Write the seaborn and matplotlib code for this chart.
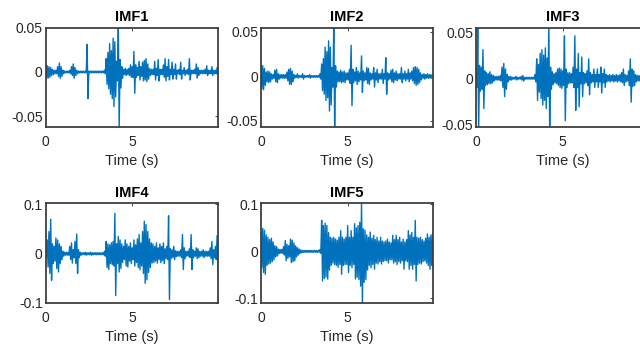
import numpy as np
import pandas as pd
import seaborn as sns
import matplotlib
matplotlib.use("Agg")
import matplotlib.pyplot as plt

# Envelope of each IMF, one pair per 0.1 s,
# in thousandths (upper peak, then lower peak)
imf1_hi = [8, 7, 6, 5, 3, 2, 2, 6, 10, 6,
           2, 1, 1, 1, 2, 6, 9, 5, 2, 1,
           1, 1, 1, 1, 31, 1, 1, 1, 1, 1,
           1, 1, 1, 1, 2, 15, 22, 32, 24, 38,
           34, 12, 55, 14, 6, 3, 4, 3, 4, 8,
           6, 23, 8, 5, 12, 6, 11, 13, 15, 9,
           4, 3, 3, 12, 4, 14, 3, 3, 8, 15,
           6, 14, 3, 11, 3, 9, 2, 3, 11, 2,
           5, 2, 3, 15, 2, 2, 3, 9, 5, 2,
           2, 2, 3, 7, 2, 2, 6, 2, 2, 5]
imf1_lo = [-8, -7, -6, -4, -3, -2, -2, -5, -7, -5,
           -2, -1, -1, -1, -2, -4, -7, -4, -2, -1,
           -1, -1, -1, -1, -30, -1, -1, -1, -1, -1,
           -1, -1, -1, -1, -2, -14, -19, -25, -30, -39,
           -28, -10, -65, -18, -7, -3, -4, -3, -4, -6,
           -6, -24, -6, -4, -9, -5, -10, -9, -11, -8,
           -4, -3, -3, -9, -4, -10, -3, -3, -6, -10,
           -5, -9, -3, -8, -3, -8, -2, -3, -8, -2,
           -4, -2, -3, -9, -2, -2, -2, -7, -4, -2,
           -2, -2, -2, -4, -2, -2, -4, -2, -2, -3]

imf2_hi = [14, 12, 9, 5, 6, 5, 3, 2, 7, 8,
           3, 2, 2, 2, 2, 5, 8, 9, 6, 2,
           1, 3, 1, 1, 3, 1, 1, 1, 2, 1,
           1, 1, 1, 1, 3, 14, 20, 33, 28, 40,
           33, 10, 60, 12, 6, 5, 7, 5, 6, 4,
           4, 8, 35, 8, 5, 10, 6, 4, 23, 6,
           4, 10, 9, 4, 3, 10, 4, 8, 3, 3,
           8, 3, 21, 4, 3, 7, 8, 4, 6, 3,
           3, 10, 3, 6, 3, 8, 4, 6, 10, 11,
           10, 8, 4, 2, 3, 2, 3, 2, 2, 2]
imf2_lo = [-14, -15, -10, -6, -7, -6, -3, -2, -6, -7,
           -3, -2, -2, -2, -2, -5, -9, -9, -6, -2,
           -1, -2, -1, -1, -3, -1, -1, -1, -2, -1,
           -1, -1, -1, -1, -3, -16, -20, -27, -24, -39,
           -32, -12, -60, -12, -6, -6, -7, -6, -7, -4,
           -4, -8, -33, -7, -5, -9, -6, -4, -18, -5,
           -4, -8, -9, -4, -3, -12, -4, -7, -3, -3,
           -8, -3, -20, -4, -3, -6, -7, -4, -5, -3,
           -3, -7, -3, -5, -3, -6, -3, -5, -8, -10,
           -9, -7, -4, -2, -3, -2, -2, -2, -2, -2]

imf3_hi = [10, 60, 14, 12, 31, 8, 6, 5, 7, 4,
           3, 2, 2, 2, 3, 12, 16, 10, 4, 2,
           2, 1, 1, 2, 1, 1, 2, 3, 1, 1,
           1, 1, 1, 1, 4, 21, 15, 27, 31, 25,
           33, 22, 60, 12, 7, 5, 6, 10, 11, 10,
           8, 46, 10, 6, 6, 5, 12, 46, 10, 27,
           6, 23, 6, 5, 8, 21, 6, 4, 10, 4,
           10, 4, 12, 5, 10, 4, 3, 4, 3, 4,
           3, 4, 3, 4, 6, 10, 4, 3, 8, 21,
           10, 8, 4, 3, 3, 3, 3, 3, 3, 3]
imf3_lo = [-10, -60, -14, -12, -33, -8, -7, -6, -6, -5,
           -3, -2, -2, -2, -3, -10, -20, -12, -4, -2,
           -2, -1, -1, -2, -1, -1, -2, -3, -1, -1,
           -1, -1, -1, -1, -4, -24, -15, -22, -29, -24,
           -33, -20, -60, -12, -7, -5, -6, -8, -10, -11,
           -8, -46, -10, -6, -5, -5, -10, -35, -10, -31,
           -6, -20, -6, -5, -8, -18, -5, -4, -10, -4,
           -10, -4, -16, -5, -10, -4, -3, -4, -3, -4,
           -3, -4, -3, -4, -5, -8, -4, -3, -8, -26,
           -9, -8, -4, -3, -3, -3, -3, -3, -3, -3]

imf4_hi = [8, 28, 45, 70, 20, 15, 32, 28, 20, 15,
           5, 3, 3, 3, 15, 22, 8, 25, 40, 8,
           3, 2, 2, 3, 2, 2, 3, 2, 2, 2,
           2, 2, 2, 2, 5, 25, 20, 18, 22, 25,
           82, 20, 35, 28, 20, 15, 28, 20, 15, 22,
           12, 28, 18, 30, 39, 22, 45, 66, 59, 45,
           30, 22, 20, 15, 22, 12, 20, 15, 22, 10,
           15, 77, 10, 8, 15, 6, 5, 5, 8, 39,
           12, 5, 5, 10, 39, 8, 5, 12, 10, 5,
           5, 8, 5, 5, 5, 12, 25, 8, 15, 37]
imf4_lo = [-8, -27, -40, -54, -20, -15, -30, -37, -20, -12,
           -5, -3, -3, -3, -12, -19, -8, -20, -40, -8,
           -3, -2, -2, -3, -2, -2, -3, -2, -2, -2,
           -2, -2, -2, -2, -5, -28, -32, -20, -22, -25,
           -85, -20, -37, -30, -18, -12, -25, -27, -15, -20,
           -12, -25, -18, -28, -32, -25, -40, -60, -53, -38,
           -28, -19, -18, -15, -19, -12, -18, -14, -20, -10,
           -12, -93, -10, -8, -12, -6, -5, -5, -8, -32,
           -10, -5, -5, -8, -32, -8, -5, -10, -8, -5,
           -5, -8, -5, -5, -5, -10, -22, -8, -12, -38]

imf5_hi = [41, 49, 45, 35, 30, 25, 28, 20, 12, 10,
           5, 4, 4, 10, 23, 15, 12, 26, 24, 18,
           12, 8, 5, 3, 2, 2, 2, 2, 2, 2,
           2, 2, 2, 2, 4, 66, 55, 60, 55, 40,
           30, 28, 30, 26, 24, 30, 44, 30, 26, 30,
           55, 30, 44, 30, 59, 50, 55, 62, 110, 48,
           45, 35, 30, 41, 28, 34, 25, 30, 22, 30,
           22, 20, 22, 26, 20, 18, 34, 25, 34, 25,
           30, 20, 26, 20, 25, 44, 35, 40, 30, 66,
           30, 28, 30, 25, 22, 28, 37, 30, 35, 37]
imf5_lo = [-35, -45, -49, -30, -27, -25, -22, -18, -12, -10,
           -5, -4, -4, -8, -20, -15, -12, -24, -22, -20,
           -12, -8, -5, -3, -2, -2, -2, -2, -2, -2,
           -2, -2, -2, -2, -4, -63, -58, -55, -59, -40,
           -30, -25, -28, -30, -34, -28, -49, -30, -28, -28,
           -45, -30, -35, -28, -59, -55, -60, -74, -115, -66,
           -60, -40, -30, -35, -28, -38, -25, -27, -22, -27,
           -22, -20, -20, -25, -18, -18, -25, -22, -28, -22,
           -25, -20, -38, -20, -22, -38, -30, -38, -28, -63,
           -28, -25, -27, -22, -20, -25, -30, -38, -30, -38]

titles = ["IMF1", "IMF2", "IMF3", "IMF4", "IMF5"]
his = [imf1_hi, imf2_hi, imf3_hi, imf4_hi, imf5_hi]
los = [imf1_lo, imf2_lo, imf3_lo, imf4_lo, imf5_lo]
ylims = [(-0.062, 0.05), (-0.057, 0.055), (-0.053, 0.055), (-0.1, 0.102), (-0.11, 0.102)]
yticks_small = [-0.05, 0, 0.05]
yticks_big = [-0.1, 0, 0.1]

sns.set_style("white")
plt.rcParams["font.family"] = ["Liberation Sans", "DejaVu Sans"]

fig = plt.figure(figsize=(6.4, 3.51), dpi=100)

# axes boxes in figure fractions (third one runs off the right edge)
lefts = [0.0711, 0.4078, 0.7438, 0.0711, 0.4078]
bottoms = [0.638, 0.638, 0.638, 0.1368, 0.1368]
w, h = 0.2695, 0.2835

edge = "#262626"
for k in range(5):
    ax = fig.add_axes([lefts[k], bottoms[k], w, h])
    t0 = np.arange(len(his[k])) * 0.1
    t = np.empty(2 * len(t0))
    v = np.empty(2 * len(t0))
    t[0::2], t[1::2] = t0, t0 + 0.05
    v[0::2] = np.array(his[k]) / 1000
    v[1::2] = np.array(los[k]) / 1000
    df = pd.DataFrame({"Time (s)": t, "value": v})
    sns.lineplot(data=df, x="Time (s)", y="value", ax=ax, color="#0072BD",
                 linewidth=1.0, estimator=None, sort=False)
    ax.set_xlim(0, 9.95)
    ax.set_ylim(*ylims[k])
    ax.set_xticks([0, 5])
    ax.set_xticklabels(["0", "5"])
    if k < 3:
        ax.set_yticks(yticks_small)
        ax.set_yticklabels(["-0.05", "0", "0.05"])
    else:
        ax.set_yticks(yticks_big)
        ax.set_yticklabels(["-0.1", "0", "0.1"])
    ax.set_xlabel("Time (s)", fontsize=10.5, color=edge, labelpad=4)
    ax.set_ylabel("")
    ax.set_title(titles[k], fontsize=10.5, fontweight="bold", color="black", pad=5)
    ax.tick_params(direction="in", length=2.5, width=0.6, colors=edge,
                   top=True, right=True, labelsize=10)
    ax.tick_params(axis="x", pad=5.5)
    ax.tick_params(axis="y", pad=2)
    for s in ax.spines.values():
        s.set_color("#404040")
        s.set_linewidth(1.3)

fig.savefig("out.png", dpi=100)
